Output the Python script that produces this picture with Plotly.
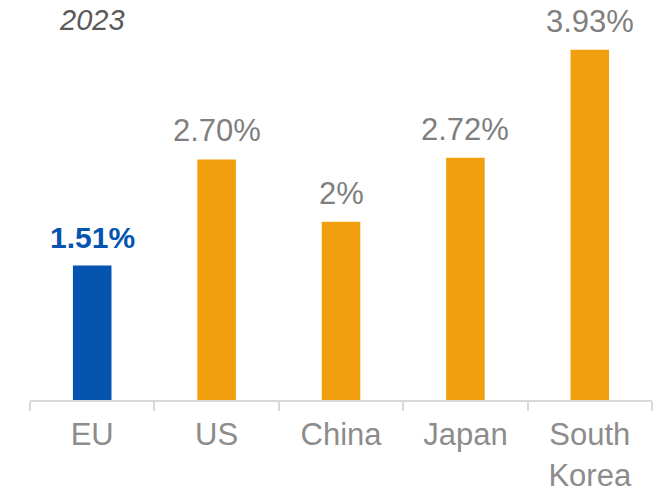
import plotly.graph_objects as go

categories = ["EU", "US", "China", "Japan", "South<br>Korea"]
values = [1.51, 2.70, 2.00, 2.72, 3.93]
value_labels = ["1.51%", "2.70%", "2%", "2.72%", "3.93%"]
bar_colors = ["#0454B0", "#F29F0D", "#F29F0D", "#F29F0D", "#F29F0D"]
label_colors = ["#0454B0", "#7F7F7F", "#7F7F7F", "#7F7F7F", "#7F7F7F"]
label_bold = [True, False, False, False, False]
title_text = "2023"

FONT = "Liberation Sans, Arial, sans-serif"

fig = go.Figure()
fig.add_trace(go.Bar(
    x=categories, y=values,
    marker=dict(color=bar_colors, line=dict(width=0)),
    width=0.31,
    hoverinfo="skip",
))

for c, v, t, col, b in zip(categories, values, value_labels, label_colors, label_bold):
    fig.add_annotation(
        x=c, y=v, text=f"<b>{t}</b>" if b else t,
        showarrow=False, yanchor="bottom", yshift=9,
        font=dict(family=FONT, size=30 if b else 31, color=col),
    )

fig.add_annotation(
    xref="paper", yref="paper", x=0.1, y=0.969,
    text=f"<i>{title_text}</i>", showarrow=False,
    xanchor="center", yanchor="middle",
    font=dict(family=FONT, size=29, color="#595959"),
)

fig.update_layout(
    width=661, height=487,
    margin=dict(l=30, r=9, t=8, b=87, autoexpand=False),
    plot_bgcolor="white", paper_bgcolor="white",
    showlegend=False,
    xaxis=dict(
        automargin=False,
        showline=True, linecolor="#D9D9D9", linewidth=2,
        ticks="outside", tickson="boundaries", ticklen=9, tickcolor="#D9D9D9", tickwidth=2,
        ticklabelstandoff=6,
        tickfont=dict(family=FONT, size=31, color="#8C8C8C"),
        showgrid=False, fixedrange=True,
    ),
    yaxis=dict(
        automargin=False,
        range=[0, 4.4], visible=False, showgrid=False, zeroline=False, fixedrange=True,
    ),
)

fig.write_html(
    "out.html",
    config={"displayModeBar": False, "staticPlot": True},
    post_script="document.body.style.margin='0';document.body.style.overflow='hidden';",
)
